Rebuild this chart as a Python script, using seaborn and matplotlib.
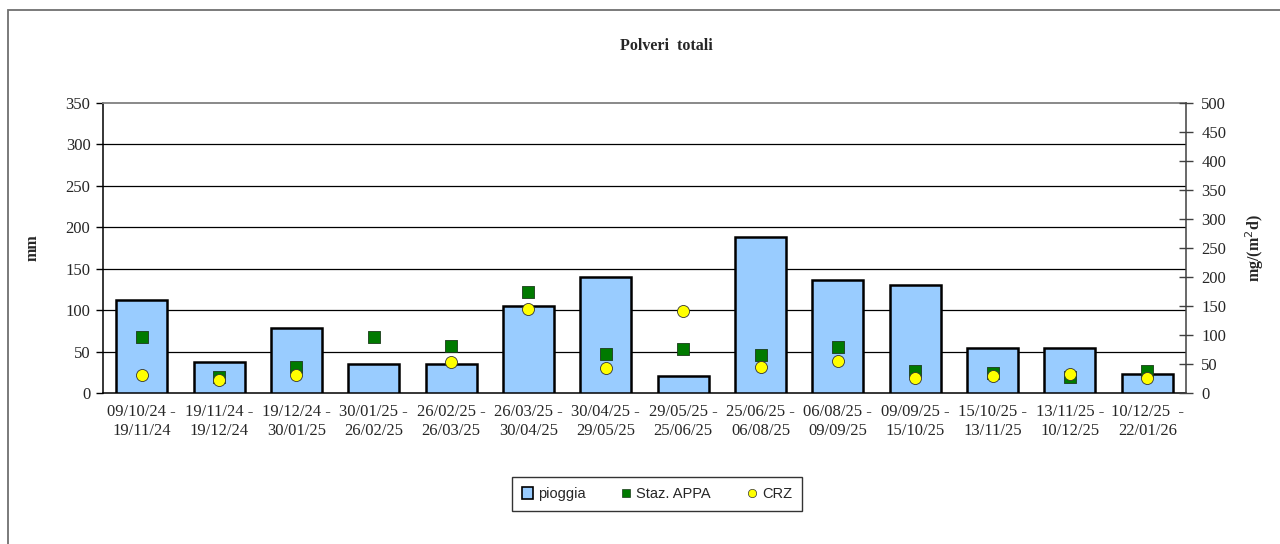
import numpy as np
import pandas as pd
import matplotlib
matplotlib.use("Agg")
import matplotlib.pyplot as plt
from matplotlib.lines import Line2D
from matplotlib.patches import Patch, Rectangle
import seaborn as sns

periods = ["09/10/24 -\n19/11/24", "19/11/24 -\n19/12/24", "19/12/24 -\n30/01/25",
           "30/01/25 -\n26/02/25", "26/02/25 -\n26/03/25", "26/03/25 -\n30/04/25",
           "30/04/25 -\n29/05/25", "29/05/25 -\n25/06/25", "25/06/25 -\n06/08/25",
           "06/08/25 -\n09/09/25", "09/09/25 -\n15/10/25", "15/10/25 -\n13/11/25",
           "13/11/25 -\n10/12/25", "10/12/25  -\n22/01/26"]
pioggia = [112, 37, 78, 35, 35, 105, 140, 20, 188, 136, 130, 54, 54, 23]
staz_appa = [97, 27, 45, 97, 81, 175, 67, 76, 65, 79, 38, 35, 27, 38]
crz = [31, 22, 31, np.nan, 54, 144, 43, 142, 45, 56, 26, 29, 32, 26]

sns.set_theme(style="white")
plt.rcParams['font.family'] = ['Liberation Serif', 'DejaVu Serif']

df = pd.DataFrame({"pos": np.arange(len(periods)), "periodo": periods,
                   "pioggia": pioggia, "appa": staz_appa, "crz": crz})

fig = plt.figure(figsize=(12.8, 5.44), dpi=100)
W, H = 1280, 544
ax = fig.add_axes([103 / W, 1 - 393 / H, (1186 - 103) / W, (393 - 103) / H])

# outer frame
fig.patches.append(Rectangle((8 / W, -0.1), 2.0, 1 - 10 / H + 0.1, transform=fig.transFigure,
                             fill=False, edgecolor="#707070", lw=1.3, zorder=0))

sns.barplot(data=df, x="pos", y="pioggia", ax=ax, color="#99CCFF", saturation=1,
            edgecolor="black", linewidth=1.8, width=0.66, native_scale=True, zorder=3)

ax.set_xlim(-0.5, len(periods) - 0.5)
ax.set_ylim(0, 350)
ax.set_yticks(np.arange(0, 351, 50))
for v in range(50, 351, 50):
    if v < 350:
        ax.axhline(v, color="black", lw=0.9, zorder=1)
ax.set_xticks(df["pos"])
ax.set_xticklabels(periods, fontsize=12, linespacing=1.2)
ax.set_xticks(np.arange(-0.5, len(periods), 1.0), minor=True)
ax.tick_params(axis="x", which="major", length=0, pad=8)
ax.tick_params(axis="x", which="minor", length=5, width=1, color="black", direction="out")
ax.tick_params(axis="y", length=5, width=1, color="black", direction="out", labelsize=12, pad=4)
ax.set_xlabel("")
ax.set_ylabel("mm", fontsize=11.5, fontweight="bold", labelpad=18)
for s in ["left", "bottom"]:
    ax.spines[s].set_color("black")
    ax.spines[s].set_linewidth(1.1)
ax.spines["top"].set_color("#808080")
ax.spines["top"].set_linewidth(1.3)
ax.spines["right"].set_visible(False)

ax2 = ax.twinx()
sns.scatterplot(data=df, x="pos", y="appa", ax=ax2, marker="s", s=70, color="#007A00",
                edgecolor="#1a3a1a", linewidth=0.6, zorder=5, legend=False)
sns.scatterplot(data=df, x="pos", y="crz", ax=ax2, marker="o", s=75, color="#FFFF00",
                edgecolor="#333333", linewidth=0.6, zorder=6, legend=False)
ax2.set_xlim(-0.5, len(periods) - 0.5)
ax2.set_ylim(0, 500)
ax2.set_yticks(np.arange(0, 501, 50))
ax2.tick_params(axis="y", length=10, width=1, color="#404040", direction="inout", labelsize=12, pad=6)
ax2.set_ylabel("mg/(m$^2$d)", fontsize=11.5, fontweight="bold", labelpad=12)
ax2.spines["right"].set_color("#404040")
ax2.spines["right"].set_linewidth(1.1)
for s in ["top", "left", "bottom"]:
    ax2.spines[s].set_visible(False)
ax2.set_xlabel("")

fig.text(666 / W, 1 - 46 / H, "Polveri  totali", ha="center", va="center",
         fontsize=11.5, fontweight="bold")

handles = [Patch(facecolor="#99CCFF", edgecolor="black", linewidth=1.2, label="pioggia"),
           Line2D([], [], marker="s", linestyle="none", markersize=5.5, markerfacecolor="#007A00",
                  markeredgecolor="#1a3a1a", markeredgewidth=0.5, label="Staz. APPA"),
           Line2D([], [], marker="o", linestyle="none", markersize=6, markerfacecolor="#FFFF00",
                  markeredgecolor="#333333", markeredgewidth=0.5, label="CRZ")]
leg = fig.legend(handles=handles, loc="center", bbox_to_anchor=(657 / W, 1 - 494 / H), ncol=3,
                 frameon=True, fancybox=False, edgecolor="black", handlelength=0.8,
                 handleheight=0.8, handletextpad=0.3, columnspacing=2.4, borderpad=0.7,
                 prop={"family": "Liberation Sans", "size": 10.5})
leg.get_frame().set_linewidth(1.0)

fig.savefig("out.png", dpi=100, facecolor="white")
